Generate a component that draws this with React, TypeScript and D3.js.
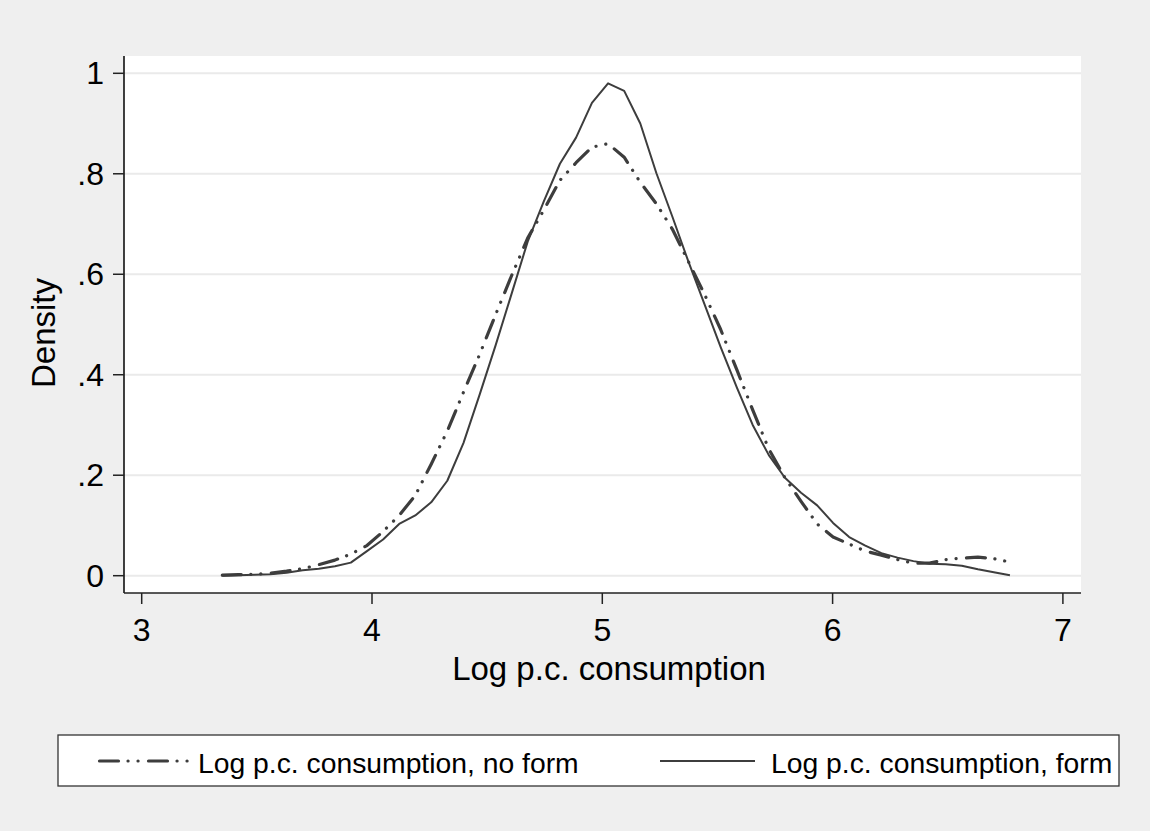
import React from "react";
import * as d3 from "d3";

// Evaluation grid (log per-capita consumption)
const logConsumption = [
  3.350, 3.420, 3.490, 3.559, 3.629, 3.699, 3.769, 3.839, 3.908, 3.978,
  4.048, 4.118, 4.188, 4.257, 4.327, 4.397, 4.467, 4.537, 4.606, 4.676,
  4.746, 4.816, 4.886, 4.955, 5.025, 5.095, 5.165, 5.235, 5.304, 5.374,
  5.444, 5.514, 5.584, 5.653, 5.723, 5.793, 5.863, 5.933, 6.002, 6.072,
  6.142, 6.212, 6.282, 6.351, 6.421, 6.491, 6.561, 6.631, 6.700, 6.770,
];

// Density, "no form" (dash-dot-dot)
const densityNoForm = [
  0.001, 0.002, 0.003, 0.005, 0.009, 0.014, 0.022, 0.031, 0.043, 0.060,
  0.088, 0.120, 0.160, 0.222, 0.288, 0.365, 0.440, 0.520, 0.597, 0.672,
  0.728, 0.787, 0.822, 0.853, 0.860, 0.833, 0.783, 0.740, 0.690, 0.625,
  0.560, 0.490, 0.410, 0.330, 0.252, 0.195, 0.148, 0.103, 0.077, 0.063,
  0.049, 0.041, 0.032, 0.025, 0.025, 0.032, 0.035, 0.037, 0.034, 0.027,
];

// Density, "form" (solid)
const densityForm = [
  0.000, 0.001, 0.002, 0.003, 0.006, 0.011, 0.014, 0.019, 0.026, 0.049,
  0.072, 0.103, 0.120, 0.146, 0.189, 0.264, 0.360, 0.459, 0.561, 0.665,
  0.745, 0.820, 0.872, 0.941, 0.980, 0.965, 0.900, 0.801, 0.715, 0.625,
  0.540, 0.455, 0.375, 0.300, 0.240, 0.195, 0.165, 0.140, 0.105, 0.077,
  0.060, 0.045, 0.036, 0.029, 0.024, 0.023, 0.020, 0.013, 0.007, 0.001,
];

const xTicks = [3, 4, 5, 6, 7];
const yTicks = [0, 0.2, 0.4, 0.6, 0.8, 1];
const yTickLabels = ["0", ".2", ".4", ".6", ".8", "1"];

const xTitle = "Log p.c. consumption";
const yTitle = "Density";
const legendLabels = ["Log p.c. consumption, no form", "Log p.c. consumption, form"];

const W = 1150;
const H = 831;
const plot = { left: 124, right: 1081, top: 56, bottom: 593 };
const FONT = "'Liberation Sans', Arial, Helvetica, sans-serif";
const LINE = "#3d3d3d";
const DASH = "19 9.5 0.1 9.9 0.1 10.4";

export default function App() {
  const x = d3.scaleLinear().domain([3, 7]).range([141.7, 1062.9]);
  const y = d3.scaleLinear().domain([0, 1]).range([575.7, 73.3]);

  const line = d3
    .line<number>()
    .x((_, i) => x(logConsumption[i]))
    .y((d) => y(d));

  return (
    <svg
      width={W}
      height={H}
      style={{ position: "absolute", left: 0, top: 0, display: "block" }}
      fontFamily={FONT}
    >
      <rect x={0} y={0} width={W} height={H} fill="#efefef" />
      <rect
        x={plot.left}
        y={plot.top}
        width={plot.right - plot.left}
        height={plot.bottom - plot.top}
        fill="#ffffff"
      />
      {/* gridlines */}
      {yTicks.map((t) => (
        <line
          key={"g" + t}
          x1={plot.left}
          x2={plot.right}
          y1={y(t)}
          y2={y(t)}
          stroke="#eaeaea"
          strokeWidth={2}
        />
      ))}
      {/* curves */}
      <path
        d={line(densityNoForm) || ""}
        fill="none"
        stroke={LINE}
        strokeWidth={3.2}
        strokeLinecap="round"
        strokeLinejoin="round"
        strokeDasharray={DASH}
      />
      <path
        d={line(densityForm) || ""}
        fill="none"
        stroke={LINE}
        strokeWidth={2}
        strokeLinejoin="round"
      />
      {/* axes */}
      <line x1={plot.left} x2={plot.left} y1={plot.top} y2={plot.bottom} stroke="#000" strokeWidth={1.5} />
      <line x1={plot.left} x2={plot.right} y1={plot.bottom} y2={plot.bottom} stroke="#222" strokeWidth={1.5} />
      {yTicks.map((t, i) => (
        <g key={"y" + t}>
          <line x1={113} x2={plot.left} y1={y(t)} y2={y(t)} stroke="#222" strokeWidth={1.5} />
          <text
            x={104}
            y={y(t)}
            textAnchor="end"
            dominantBaseline="central"
            fontSize={32}
            fill="#000"
          >
            {yTickLabels[i]}
          </text>
        </g>
      ))}
      {xTicks.map((t) => (
        <g key={"x" + t}>
          <line x1={x(t)} x2={x(t)} y1={plot.bottom} y2={604} stroke="#222" strokeWidth={1.5} />
          <text x={x(t)} y={641} textAnchor="middle" fontSize={32} fill="#000">
            {t}
          </text>
        </g>
      ))}
      <text x={609} y={680} textAnchor="middle" fontSize={33} fill="#000">
        {xTitle}
      </text>
      <text
        transform={`translate(55,333) rotate(-90)`}
        textAnchor="middle"
        fontSize={33}
        fill="#000"
      >
        {yTitle}
      </text>
      {/* legend */}
      <rect x={58} y={735} width={1061} height={51} fill="#ffffff" stroke="#333" strokeWidth={1.3} />
      <line
        x1={99.5}
        x2={188}
        y1={761}
        y2={761}
        stroke={LINE}
        strokeWidth={3.2}
        strokeLinecap="round"
        strokeDasharray={DASH}
      />
      <text x={198} y={773} fontSize={28.3} fill="#000">
        {legendLabels[0]}
      </text>
      <line x1={660} x2={755} y1={761} y2={761} stroke={LINE} strokeWidth={2} />
      <text x={771} y={773} fontSize={28.3} fill="#000">
        {legendLabels[1]}
      </text>
    </svg>
  );
}
